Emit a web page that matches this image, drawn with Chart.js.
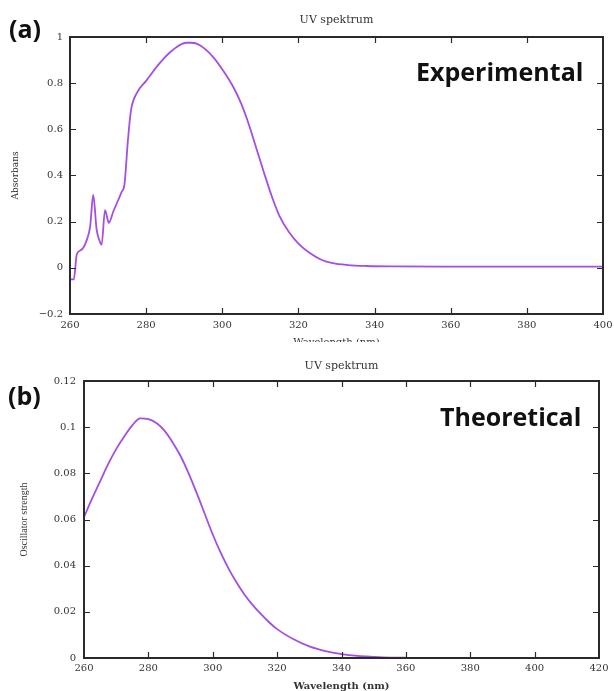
<!DOCTYPE html>
<html>
<head>
<meta charset="utf-8">
<script src="https://cdn.jsdelivr.net/npm/chart.js@4"></script>
<style>
  html, body { margin: 0; padding: 0; background: #fff; }
  #page { position: relative; width: 614px; height: 691px; overflow: hidden; background: #fff; }
  canvas { position: absolute; left: 0; }
  #chartA { top: 0; }
  #chartB { top: 342px; }
  .tag {
    position: absolute;
    font-family: 'Open Sans', sans-serif;
    font-weight: 700;
    font-size: 25px;
    line-height: 25px;
    color: #111;
    white-space: nowrap;
  }
</style>
</head>
<body>
<div id="page">
  <canvas id="chartA" width="614" height="342"></canvas>
  <canvas id="chartB" width="614" height="349"></canvas>
  <div class="tag" style="left:9px;top:16px">(a)</div>
  <div class="tag" style="left:416px;top:59px">Experimental</div>
  <div class="tag" style="left:8px;top:383px">(b)</div>
  <div class="tag" style="left:440px;top:404px">Theoretical</div>
</div>
<script>
// (a) measured UV spectrum
const expWavelength = [260, 261, 261.8, 263, 264.4, 265.3, 266.1, 267, 267.7, 268.3, 269.2, 270.2,
  271.4, 272.7, 273.6, 274.3, 275.2, 276, 277.5, 280, 283.5, 287, 290.5, 292, 294, 297.5, 301,
  303, 305, 307, 309, 311, 313, 315, 317.5, 320, 323, 326, 329, 333, 338, 345, 360, 380, 400];
const expAbsorbance = [-0.05, -0.05, 0.06, 0.078, 0.12, 0.18, 0.316, 0.165, 0.12, 0.1, 0.25, 0.195,
  0.245, 0.295, 0.33, 0.36, 0.55, 0.68, 0.756, 0.81, 0.886, 0.944, 0.975, 0.975, 0.965, 0.915, 0.835,
  0.78, 0.71, 0.62, 0.515, 0.41, 0.31, 0.225, 0.155, 0.105, 0.064, 0.035, 0.02, 0.012, 0.008, 0.006,
  0.005, 0.005, 0.005];
const expXTicks = [260, 280, 300, 320, 340, 360, 380, 400];
const expYTicks = [-0.2, 0, 0.2, 0.4, 0.6, 0.8, 1];

// (b) calculated spectrum
const theoWavelength = [260, 262.5, 265, 267.5, 270, 272.5, 275, 277.5, 280, 282.5, 285, 287.5, 290,
  292.5, 295, 297.5, 300, 302.5, 305, 307.5, 310, 312.5, 315, 317.5, 320, 325, 330, 335, 340, 345,
  350, 355, 360, 370, 390, 420];
const theoStrength = [0.061, 0.069, 0.0765, 0.084, 0.0905, 0.096, 0.1008, 0.1038, 0.1035, 0.1018,
  0.0985, 0.0935, 0.0875, 0.080, 0.0715, 0.0625, 0.0535, 0.0455, 0.0385, 0.0325, 0.0272, 0.0228,
  0.019, 0.0155, 0.0125, 0.0082, 0.005, 0.003, 0.0017, 0.0009, 0.0005, 0.0002, 0.0001, 0, 0, 0];
const theoXTicks = [260, 280, 300, 320, 340, 360, 380, 400, 420];
const theoYTicks = [0, 0.02, 0.04, 0.06, 0.08, 0.1, 0.12];

const LINE_COLOR = '#a44ee2';
const INK = '#2a2a2a';

// box frame with inward ticks on all four sides, plus the small title
const framePlugin = {
  id: 'frame',
  afterDraw(chart, args, opts) {
    const { ctx, chartArea: a, scales: { x, y } } = chart;
    ctx.save();
    ctx.strokeStyle = INK;
    ctx.lineWidth = 1.2;
    ctx.beginPath();
    x.ticks.forEach(t => {
      if (t.value === x.min || t.value === x.max) return;
      const px = Math.round(x.getPixelForValue(t.value)) + 0.5;
      ctx.moveTo(px, a.bottom); ctx.lineTo(px, a.bottom - 6);
      ctx.moveTo(px, a.top); ctx.lineTo(px, a.top + 6);
    });
    y.ticks.forEach(t => {
      if (t.value === y.min || t.value === y.max) return;
      const py = Math.round(y.getPixelForValue(t.value)) + 0.5;
      ctx.moveTo(a.left, py); ctx.lineTo(a.left + 6, py);
      ctx.moveTo(a.right, py); ctx.lineTo(a.right - 6, py);
    });
    ctx.stroke();
    ctx.lineWidth = 2;
    ctx.strokeRect(a.left, a.top, a.right - a.left, a.bottom - a.top);
    ctx.fillStyle = '#333';
    ctx.font = '11px "DejaVu Serif", serif';
    ctx.textAlign = 'center';
    ctx.textBaseline = 'middle';
    ctx.fillText(opts.title, (a.left + a.right) / 2, opts.titleY);
    ctx.restore();
  }
};

function fmt(v) {
  return v < 0 ? '\u2212' + Math.abs(v) : String(v);
}

function makeChart(id, cfg) {
  const data = cfg.xs.map((x, i) => ({ x: x, y: cfg.ys[i] }));
  return new Chart(document.getElementById(id), {
    type: 'line',
    data: {
      datasets: [{
        data: data,
        borderColor: LINE_COLOR,
        borderWidth: 1.8,
        pointRadius: 0,
        cubicInterpolationMode: 'monotone',
        fill: false
      }]
    },
    options: {
      responsive: false,
      animation: false,
      events: [],
      layout: { padding: { top: cfg.top, right: cfg.right, left: 0, bottom: 0 } },
      plugins: {
        legend: { display: false },
        title: { display: false },
        tooltip: { enabled: false },
        frame: { title: 'UV spektrum', titleY: cfg.titleY }
      },
      scales: {
        x: {
          type: 'linear',
          min: cfg.xTicks[0],
          max: cfg.xTicks[cfg.xTicks.length - 1],
          afterBuildTicks: s => { s.ticks = cfg.xTicks.map(v => ({ value: v })); },
          afterFit: s => { s.height = cfg.xAxisH; s.paddingLeft = 0; s.paddingRight = 0; },
          grid: { display: false, drawTicks: false },
          border: { display: false },
          ticks: {
            padding: cfg.xTickPad,
            maxRotation: 0,
            autoSkip: false,
            color: '#333',
            font: { family: '"DejaVu Serif", serif', size: 10 },
            callback: v => fmt(v)
          },
          title: {
            display: true,
            text: 'Wavelength (nm)',
            color: '#333',
            font: cfg.xTitleFont,
            padding: { top: 0, bottom: cfg.xTitlePad }
          }
        },
        y: {
          min: cfg.yTicks[0],
          max: cfg.yTicks[cfg.yTicks.length - 1],
          afterBuildTicks: s => { s.ticks = cfg.yTicks.map(v => ({ value: v })); },
          afterFit: s => { s.width = cfg.yAxisW; s.paddingTop = 0; s.paddingBottom = 0; },
          grid: { display: false, drawTicks: false },
          border: { display: false },
          ticks: {
            padding: cfg.yTickPad,
            autoSkip: false,
            color: '#333',
            font: { family: '"DejaVu Serif", serif', size: 10 },
            callback: v => fmt(v)
          },
          title: {
            display: true,
            text: cfg.yTitle,
            color: '#333',
            font: cfg.yTitleFont,
            padding: { top: cfg.yTitlePad, bottom: 0 }
          }
        }
      }
    },
    plugins: [framePlugin]
  });
}

makeChart('chartA', {
  xs: expWavelength, ys: expAbsorbance,
  xTicks: expXTicks, yTicks: expYTicks,
  top: 37, right: 11, titleY: 20,
  xAxisH: 28, yAxisW: 70, xTickPad: 5, yTickPad: 7,
  xTitleFont: { family: '"DejaVu Serif", serif', size: 10 }, xTitlePad: -6,
  yTitle: 'Absorbans', yTitleFont: { family: '"DejaVu Serif", serif', size: 9 }, yTitlePad: 10
});

makeChart('chartB', {
  xs: theoWavelength, ys: theoStrength,
  xTicks: theoXTicks, yTicks: theoYTicks,
  top: 39, right: 15, titleY: 24,
  xAxisH: 33, yAxisW: 84, xTickPad: 4, yTickPad: 8,
  xTitleFont: { family: '"DejaVu Serif", serif', size: 10, weight: 'bold' }, xTitlePad: -1,
  yTitle: 'Oscillator strength', yTitleFont: { family: '"Liberation Serif", serif', size: 10 }, yTitlePad: 18
});
</script>
</body>
</html>
